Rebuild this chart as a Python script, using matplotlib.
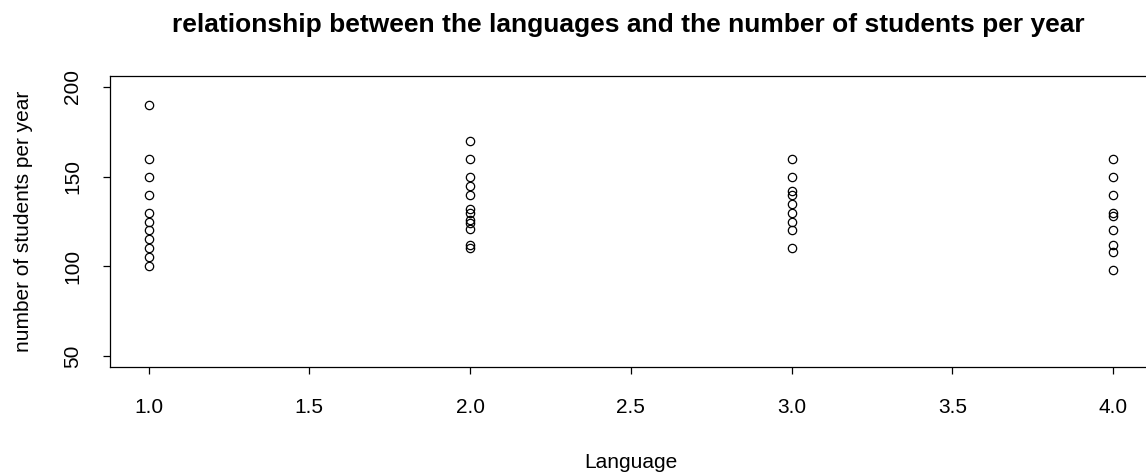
import matplotlib
matplotlib.use("Agg")
import matplotlib.pyplot as plt

plt.rcParams['font.family'] = ['Liberation Sans', 'DejaVu Sans']

# students per year, grouped by language code
lang1 = [190, 160, 150, 140, 130, 125, 120, 115, 110, 105, 100]
lang2 = [170, 160, 150, 145, 140, 132, 130, 126, 124, 121, 112, 110]
lang3 = [160, 150, 142, 140, 135, 130, 125, 120, 110]
lang4 = [160, 150, 140, 130, 128, 120, 112, 108, 98]
languages = [1, 2, 3, 4]
groups = [lang1, lang2, lang3, lang4]

x_ticks = [1.0, 1.5, 2.0, 2.5, 3.0, 3.5, 4.0]
y_ticks = [50, 100, 150, 200]

fig = plt.figure(figsize=(11.46, 4.74), dpi=100)
ax = fig.add_axes([0.096, 0.2257, 0.909, 0.614])

for lang, vals in zip(languages, groups):
    ax.plot([lang] * len(vals), vals, linestyle='none', marker='o',
            markersize=6, markerfacecolor='none', markeredgecolor='black',
            markeredgewidth=0.9)

ax.set_xlim(0.88, 4.12)
ax.set_ylim(44, 206)
ax.set_xticks(x_ticks)
ax.set_xticklabels([f'{t:.1f}' for t in x_ticks])
ax.set_yticks(y_ticks)
ax.set_yticklabels([str(t) for t in y_ticks], rotation=90, va='center')
ax.tick_params(direction='out', length=5, width=0.9, labelsize=15)
ax.tick_params(axis='x', pad=17)
ax.tick_params(axis='y', pad=15)
for s in ax.spines.values():
    s.set_linewidth(0.9)

ax.set_xlabel('Language', fontsize=15, labelpad=26)
ax.set_ylabel('number of students per year', fontsize=15, labelpad=22)
fig.text(0.548, 0.947,
         'relationship between the languages and the number of students per year',
         fontsize=19, fontweight='bold', ha='center', va='center')

fig.savefig('out.png', dpi=100)
